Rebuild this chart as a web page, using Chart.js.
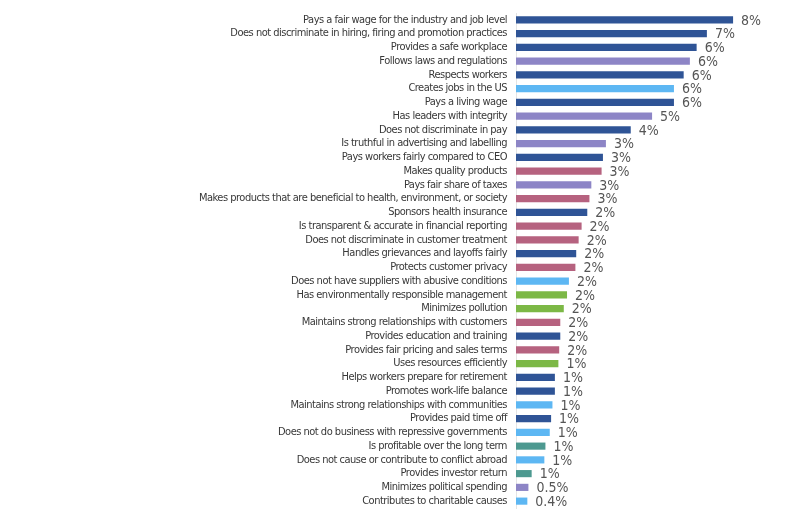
<!DOCTYPE html>
<html>
<head>
<meta charset="utf-8">
<script src="https://cdn.jsdelivr.net/npm/chart.js@4.4.0/dist/chart.umd.min.js"></script>
<style>
  html, body { margin: 0; padding: 0; background: #fff; }
  #wrap { width: 800px; height: 517px; }
</style>
</head>
<body>
<div id="wrap"><canvas id="chart"></canvas></div>
<script>
// Values
const categories = [
    'Pays a fair wage for the industry and job level',
    'Does not discriminate in hiring, firing and promotion practices',
    'Provides a safe workplace',
    'Follows laws and regulations',
    'Respects workers',
    'Creates jobs in the US',
    'Pays a living wage',
    'Has leaders with integrity',
    'Does not discriminate in pay',
    'Is truthful in advertising and labelling',
    'Pays workers fairly compared to CEO',
    'Makes quality products',
    'Pays fair share of taxes',
    'Makes products that are beneficial to health, environment, or society',
    'Sponsors health insurance',
    'Is transparent & accurate in financial reporting',
    'Does not discriminate in customer treatment',
    'Handles grievances and layoffs fairly',
    'Protects customer privacy',
    'Does not have suppliers with abusive conditions',
    'Has environmentally responsible management',
    'Minimizes pollution',
    'Maintains strong relationships with customers',
    'Provides education and training',
    'Provides fair pricing and sales terms',
    'Uses resources efficiently',
    'Helps workers prepare for retirement',
    'Promotes work-life balance',
    'Maintains strong relationships with communities',
    'Provides paid time off',
    'Does not do business with repressive governments',
    'Is profitable over the long term',
    'Does not cause or contribute to conflict abroad',
    'Provides investor return',
    'Minimizes political spending',
    'Contributes to charitable causes'
];

const values = [
    8.04, 7.07, 6.69, 6.44, 6.21, 5.85, 5.85, 5.04, 4.25, 3.33, 3.22, 3.17,
    2.79, 2.72, 2.64, 2.43, 2.32, 2.23, 2.2, 1.96, 1.89, 1.77, 1.64, 1.64,
    1.6, 1.57, 1.44, 1.44, 1.35, 1.3, 1.25, 1.09, 1.05, 0.58, 0.46, 0.42
];

const valueLabels = [
    '8%', '7%', '6%', '6%', '6%', '6%', '6%', '5%', '4%', '3%', '3%', '3%',
    '3%', '3%', '2%', '2%', '2%', '2%', '2%', '2%', '2%', '2%', '2%', '2%',
    '2%', '1%', '1%', '1%', '1%', '1%', '1%', '1%', '1%', '1%', '0.5%', '0.4%'
];

// group of each item: w = workers, g = governance, l = local, c = customers, e = environment, s = shareholders
const groups = [
    'w', 'w', 'w', 'g', 'w', 'l', 'w', 'g', 'w', 'g', 'w', 'c',
    'g', 'c', 'w', 'c', 'c', 'w', 'c', 'l', 'e', 'e', 'c', 'w',
    'c', 'e', 'w', 'w', 'l', 'w', 'l', 's', 'l', 's', 'g', 'l'
];

const groupColors = {
    w: '#2f5496',
    g: '#8d85c6',
    l: '#5db7f3',
    c: '#b6627f',
    e: '#7cb846',
    s: '#4d9990'
};

const labelFont = '"DejaVu Sans Condensed", sans-serif';

// canvas resizing resets the context, so set the tight spacing right before drawing
const tightText = {
    id: 'tightText',
    beforeDraw(chart) {
        chart.ctx.letterSpacing = '-0.5px';
    }
};

const valueLabelPlugin = {
    id: 'valueLabels',
    afterDatasetsDraw(chart) {
        const ctx = chart.ctx;
        const meta = chart.getDatasetMeta(0);
        ctx.save();
        ctx.letterSpacing = '0px';
        ctx.font = '14px ' + labelFont;
        ctx.fillStyle = '#555555';
        ctx.textAlign = 'left';
        ctx.textBaseline = 'middle';
        meta.data.forEach((bar, i) => {
            ctx.fillText(valueLabels[i], bar.x + 8, bar.y + 1);
        });
        ctx.restore();
    }
};

new Chart(document.getElementById('chart'), {
    type: 'bar',
    data: {
        labels: categories,
        datasets: [{
            data: values,
            backgroundColor: groups.map(g => groupColors[g]),
            categoryPercentage: 1.0,
            barPercentage: 0.52
        }]
    },
    options: {
        indexAxis: 'y',
        responsive: true,
        maintainAspectRatio: false,
        animation: false,
        layout: { padding: { top: 13, bottom: 9, right: 14, left: 0 } },
        plugins: {
            legend: { display: false },
            tooltip: { enabled: false }
        },
        scales: {
            x: {
                min: 0,
                max: 10,
                display: false
            },
            y: {
                afterFit(scale) { scale.width = 516; },
                grid: { display: false },
                border: { display: true, color: '#e4e4e4', width: 1 },
                ticks: {
                    color: '#383838',
                    padding: 1,
                    autoSkip: false,
                    font: { family: labelFont, size: 11 }
                }
            }
        }
    },
    plugins: [tightText, valueLabelPlugin]
});
</script>
</body>
</html>
